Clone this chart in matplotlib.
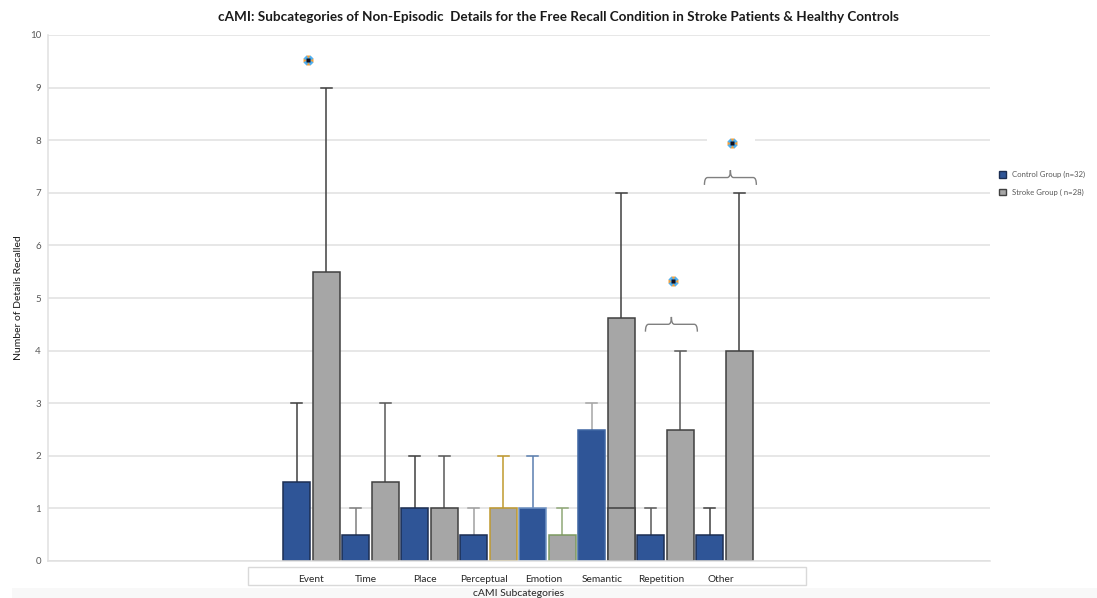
import matplotlib
matplotlib.use("Agg")
import matplotlib.pyplot as plt
import numpy as np
from matplotlib.patches import Rectangle, Patch, PathPatch
from matplotlib.path import Path
import matplotlib.transforms as mtransforms

plt.rcParams['font.family'] = ['Lato', 'DejaVu Sans']

# ---------------- data ----------------
categories = ['Event', 'Time', 'Place', 'Perceptual', 'Emotion', 'Semantic', 'Repetition', 'Other']
control_vals = [1.5, 0.5, 1.0, 0.5, 1.0, 2.5, 0.5, 0.5]
stroke_vals = [5.5, 1.5, 1.0, 1.0, 0.5, 4.62, 2.5, 4.0]
control_upper = [3, 1, 2, 1, 2, 3, 1, 1]
stroke_upper = [9, 3, 2, 2, 1, 7, 4, 7]
semantic_stroke_inner = 1.0
sig_categories = ['Event', 'Repetition', 'Other']
sig_star_y = [9.52, 5.32, 7.95]
brace_categories = ['Repetition', 'Other']
brace_y = [4.36, 7.15]
legend_labels = ['Control Group (n=32)', 'Stroke Group ( n=28)']
title = 'cAMI: Subcategories of Non-Episodic  Details for the Free Recall Condition in Stroke Patients & Healthy Controls'
xlabel = 'cAMI Subcategories'
ylabel = 'Number of Details Recalled'

# ---------------- styles ----------------
ctrl_fill = '#2f5597'
strk_fill = '#a6a6a6'
ctrl_edges = ['#1c2e52', '#1c2e52', '#1c2e52', '#1c2e52', '#6f93c4', '#3f66a3', '#1c2e52', '#1c2e52']
strk_edges = ['#404040', '#404040', '#404040', '#c09a2e', '#7d9a60', '#404040', '#404040', '#404040']
ctrl_err = ['#404040', '#7f7f7f', '#404040', '#a0a0a0', '#5b7fb0', '#a6a6a6', '#595959', '#404040']
strk_err = ['#404040', '#595959', '#595959', '#c09a2e', '#8fa876', '#404040', '#595959', '#404040']

W, H = 1097, 598
fig = plt.figure(figsize=(W / 100, H / 100), dpi=100)
ax_l, ax_r, ax_t, ax_b = 48, 990, 35, 561
ax = fig.add_axes([ax_l / W, 1 - ax_b / H, (ax_r - ax_l) / W, (ax_b - ax_t) / H])

x = np.arange(len(categories))
bw = 0.46
off = 0.25

ax.set_xlim(-4.466, 11.5)
ax.set_ylim(0, 10)
ax.set_yticks(range(0, 11))
ax.yaxis.grid(True, color='#e0e0e0', lw=1.1)
ax.set_axisbelow(True)
for s in ['top', 'right']:
    ax.spines[s].set_visible(False)
for s in ['left', 'bottom']:
    ax.spines[s].set_color('#e0e0e0')
    ax.spines[s].set_linewidth(1.1)
ax.tick_params(axis='y', length=0, pad=5, labelsize=7, labelcolor='#595959')
ax.tick_params(axis='x', length=0)
ax.set_xticks([])

# white patches behind significance stars (they hide gridlines)
for c, sy in zip(sig_categories, sig_star_y):
    i = categories.index(c)
    ax.add_patch(Rectangle((i + 0.11 - 0.4, sy - 0.3), 0.8, 0.6, facecolor='white',
                           edgecolor='none', zorder=0.8))

# bars
ax.bar(x - off, control_vals, bw, color=ctrl_fill, edgecolor=ctrl_edges, linewidth=1.1, zorder=2)
ax.bar(x + off, stroke_vals, bw, color=strk_fill, edgecolor=strk_edges, linewidth=1.1, zorder=2)
si = categories.index('Semantic')
ax.bar([si + off], [semantic_stroke_inner], bw, color=strk_fill, edgecolor='#404040', linewidth=1.1, zorder=2.1)

# upper error bars
cap = 0.09
for i in range(len(categories)):
    for xv, v, u, col in [(x[i] - off, control_vals[i], control_upper[i], ctrl_err[i]),
                          (x[i] + off, stroke_vals[i], stroke_upper[i], strk_err[i])]:
        ax.plot([xv, xv], [v, u], color=col, lw=1.1, zorder=1.5, solid_capstyle='butt')
        ax.plot([xv - cap, xv + cap], [u, u], color=col, lw=1.1, zorder=1.5)

# significance stars
for c, sy in zip(sig_categories, sig_star_y):
    i = categories.index(c)
    xs = i + (-0.06 if c == 'Event' else 0.12)
    ax.plot(xs, sy, marker='P', ms=7, color='#f0a040', mec='none', zorder=5)
    ax.plot(xs, sy, marker='X', ms=7, color='#50b0f0', mec='none', zorder=5.1)
    ax.plot(xs, sy, marker='s', ms=3.2, color='#101020', mec='none', zorder=5.2)

# braces
def brace(xc, hw, y0, h):
    r = hw * 0.12
    yh = y0 + h * 0.5
    yt = y0 + h
    verts = [(xc - hw, y0), (xc - hw, yh), (xc - hw + r, yh),
             (xc - r, yh), (xc, yh), (xc, yt),
             (xc, yh), (xc + r, yh),
             (xc + hw - r, yh), (xc + hw, yh), (xc + hw, y0)]
    codes = [Path.MOVETO, Path.CURVE3, Path.CURVE3,
             Path.LINETO, Path.CURVE3, Path.CURVE3,
             Path.CURVE3, Path.CURVE3,
             Path.LINETO, Path.CURVE3, Path.CURVE3]
    ax.add_patch(PathPatch(Path(verts, codes), facecolor='none', edgecolor='#808080', lw=1.0, zorder=4))

for c, by in zip(brace_categories, brace_y):
    i = categories.index(c)
    brace(i + 0.1, 0.44, by, 0.28)

# category label box
trans = mtransforms.blended_transform_factory(ax.transData, ax.transAxes)
box_y0 = -(585 - ax_b) / (ax_b - ax_t)
box_h = (585 - 567) / (ax_b - ax_t)
ax.add_patch(Rectangle((-1.076, box_y0), 9.456, box_h, transform=trans, facecolor='white',
                       edgecolor='#d9d9d9', lw=1.0, clip_on=False))
lab_y = -(579 - ax_b) / (ax_b - ax_t)
for i, c in enumerate(categories):
    ax.text(i - (0.07 if i else 0.0), lab_y, c, transform=trans, ha='center', va='center',
            fontsize=7.3, color='#262626')

fig.text(519 / W, 1 - 593 / H, xlabel, ha='center', va='center', fontsize=7.5, color='#262626')
ax.set_ylabel(ylabel, fontsize=7.5, color='#1a1a1a')
ax.yaxis.set_label_coords(-(ax_l - 23) / (ax_r - ax_l), 0.5)

fig.text(558 / W, 1 - 17 / H, title, ha='center', va='center', fontsize=9.7, fontweight='bold', color='#1a1a1a')

handles = [Patch(facecolor=ctrl_fill, edgecolor='#1c2e52'), Patch(facecolor=strk_fill, edgecolor='#404040')]
fig.legend(handles, legend_labels, loc='upper left', bbox_to_anchor=(993 / W, 1 - 165 / H),
           frameon=False, fontsize=5.6, handlelength=0.9, handleheight=0.9, handletextpad=0.7,
           labelspacing=1.3, labelcolor='#595959', borderpad=0.3)

# faint bottom band
fig.add_artist(Rectangle((12 / W, 0), 1, 10 / H, transform=fig.transFigure,
                         facecolor='#f8f8f8', edgecolor='none', zorder=-1))

fig.savefig('out.png', dpi=100)
